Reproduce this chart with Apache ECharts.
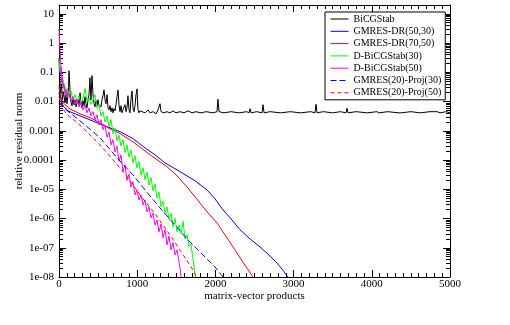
<!DOCTYPE html>
<html>
<head>
<meta charset="utf-8">
<script src="https://cdn.jsdelivr.net/npm/echarts@6/dist/echarts.min.js"></script>
<style>
  html, body { margin: 0; padding: 0; background: #fff; }
  #chart { width: 510px; height: 325px; }
</style>
</head>
<body>
<div id="chart"></div>
<script>
// series names (legend order)
const seriesNames = ['BiCGStab', 'GMRES-DR(50,30)', 'GMRES-DR(70,50)', 'D-BiCGStab(30)',
  'D-BiCGStab(50)', 'GMRES(20)-Proj(30)', 'GMRES(20)-Proj(50)'];

// [matrix-vector products, relative residual norm]
const bicgstab = [[0, 0.3], [6, 0.105], [19, 0.0171], [32, 0.038], [45, 0.0115], [58, 0.0217], [77, 0.0091],
  [90, 0.0171], [102, 0.0084], [122, 0.03], [128, 0.113], [141, 0.025], [153, 0.0098], [166, 0.0072],
  [179, 0.0135], [192, 0.0078], [205, 0.0115], [217, 0.0066], [230, 0.0091], [243, 0.0115], [256, 0.0078],
  [269, 0.02], [281, 0.0084], [294, 0.0061], [307, 0.0107], [320, 0.0072], [333, 0.0146], [345, 0.0084],
  [358, 0.0061], [371, 0.0115], [384, 0.0171], [396, 0.065], [409, 0.0115], [422, 0.077], [435, 0.0171],
  [448, 0.0084], [460, 0.0066], [473, 0.0107], [486, 0.0072], [499, 0.0115], [511, 0.0078], [524, 0.0091],
  [537, 0.0066], [550, 0.0115], [563, 0.0158], [576, 0.025], [588, 0.0115], [601, 0.0084], [614, 0.0171],
  [627, 0.0061], [640, 0.0052], [652, 0.0072], [665, 0.0045], [678, 0.0061], [691, 0.0041], [703, 0.0057],
  [716, 0.0048], [729, 0.0078], [742, 0.0146], [755, 0.025], [767, 0.0078], [780, 0.0045], [793, 0.0072],
  [806, 0.0041], [818, 0.0052], [831, 0.0045], [844, 0.0078], [857, 0.0045], [869, 0.0061], [882, 0.0158],
  [895, 0.0052], [908, 0.0041], [920, 0.0115], [934, 0.023], [946, 0.0061], [959, 0.0045], [972, 0.0072],
  [985, 0.0171], [998, 0.027], [1010, 0.0052], [1023, 0.0041], [1036, 0.0048], [1062, 0.0045], [1100, 0.0041],
  [1138, 0.0052], [1164, 0.0041], [1202, 0.0045], [1241, 0.0038], [1266, 0.0052], [1292, 0.0084], [1305, 0.0045],
  [1343, 0.0041], [1381, 0.0045], [1420, 0.0041], [1458, 0.0048], [1496, 0.0041], [1548, 0.0045], [1599, 0.0041],
  [1650, 0.0048], [1701, 0.0041], [1752, 0.0045], [1816, 0.0041], [1880, 0.0045], [1970, 0.0041], [2020, 0.0045],
  [2033, 0.012], [2046, 0.0045], [2110, 0.0041], [2200, 0.0045], [2300, 0.0041], [2400, 0.0045], [2430, 0.0041],
  [2443, 0.0057], [2456, 0.0041], [2530, 0.0045], [2596, 0.0041], [2609, 0.0078], [2622, 0.0041], [2700, 0.0045],
  [2830, 0.0041], [2960, 0.0045], [3090, 0.0041], [3220, 0.0045], [3274, 0.0041], [3287, 0.0081], [3300, 0.0041],
  [3380, 0.0045], [3500, 0.0041], [3600, 0.0045], [3670, 0.0041], [3683, 0.0059], [3696, 0.0041], [3800, 0.0045],
  [3940, 0.0041], [4067, 0.0045], [4080, 0.0048], [4093, 0.0041], [4200, 0.0045], [4348, 0.0041], [4361, 0.0045],
  [4374, 0.0041], [4500, 0.0045], [4620, 0.0041], [4745, 0.0045], [4758, 0.0048], [4770, 0.0041], [4835, 0.0045],
  [4850, 0.0048], [4873, 0.0041], [4950, 0.0045], [5000, 0.0041]];

const gmresDr5030 = [[0, 0.03], [6, 0.025], [26, 0.0115], [51, 0.0072], [115, 0.0048], [205, 0.0038],
  [358, 0.0026], [524, 0.0017], [652, 0.00126], [780, 0.00093], [946, 0.00054], [1100, 0.00026],
  [1228, 0.000151], [1356, 8e-5], [1548, 4e-5], [1739, 1.95e-5], [1893, 9.5e-6], [1995, 4.7e-6],
  [2098, 1.96e-6], [2213, 8.9e-7], [2315, 4.1e-7], [2443, 2.0e-7], [2571, 1.07e-7], [2699, 5.2e-8],
  [2788, 3.0e-8], [2865, 1.7e-8], [2916, 1.08e-8], [2930, 1e-8]];

const gmresDr7050 = [[0, 0.035], [6, 0.029], [26, 0.0134], [64, 0.0084], [141, 0.0056], [269, 0.0038],
  [396, 0.0028], [524, 0.00187], [652, 0.00117], [780, 0.0008], [946, 0.00042], [1164, 0.000151],
  [1381, 5.9e-5], [1509, 2.9e-5], [1637, 1.2e-5], [1803, 3.4e-6], [1906, 1.55e-6], [2021, 7.1e-7],
  [2123, 2.75e-7], [2225, 1.07e-7], [2353, 3.2e-8], [2481, 1e-8]];

const dBicg30 = [[0, 0.3], [13, 0.1], [26, 0.12], [38, 0.04], [51, 0.055], [64, 0.025], [77, 0.033],
  [90, 0.017], [102, 0.028], [128, 0.013], [154, 0.022], [179, 0.0115], [205, 0.017], [230, 0.0098],
  [256, 0.0158], [281, 0.009], [307, 0.013], [333, 0.028], [358, 0.0098], [384, 0.0135], [409, 0.008],
  [435, 0.0115], [460, 0.0171], [486, 0.006], [511, 0.0075], [537, 0.0032], [563, 0.0045], [588, 0.002],
  [614, 0.0032], [640, 0.0014], [665, 0.0024], [691, 0.0008], [716, 0.00125], [742, 0.00045], [767, 0.0007],
  [793, 0.0003], [818, 0.0005], [844, 0.00018], [869, 0.00033], [895, 0.000125], [920, 0.00022], [946, 8e-5],
  [972, 0.00014], [997, 5.4e-5], [1023, 9e-5], [1049, 3e-5], [1074, 5.5e-5], [1100, 2.1e-5], [1125, 3.9e-5],
  [1151, 1.4e-5], [1177, 2.5e-5], [1202, 9e-6], [1228, 1.5e-5], [1254, 5e-6], [1279, 8e-6], [1305, 2.5e-6],
  [1330, 4e-6], [1356, 1.5e-6], [1381, 2.5e-6], [1407, 9e-7], [1433, 1.5e-6], [1458, 5e-7], [1484, 1.0e-6],
  [1510, 3.5e-7], [1535, 6e-7], [1561, 3e-7], [1586, 8e-7], [1612, 2e-7], [1637, 2.8e-7], [1663, 1.1e-7],
  [1688, 1.3e-7], [1714, 4e-8], [1735, 1.5e-8], [1750, 1e-8]];

const dBicg50 = [[0, 3.0], [6, 1.2], [13, 0.6], [19, 0.35], [26, 0.08], [32, 0.15], [38, 0.045], [45, 0.07],
  [51, 0.03], [64, 0.04], [77, 0.018], [90, 0.025], [102, 0.0135], [128, 0.02], [154, 0.01], [179, 0.015],
  [205, 0.008], [230, 0.012], [256, 0.0066], [281, 0.0098], [307, 0.0052], [333, 0.0075], [358, 0.0041],
  [384, 0.006], [409, 0.0033], [435, 0.0045], [460, 0.0024], [486, 0.0035], [511, 0.0016], [537, 0.0024],
  [563, 0.0011], [588, 0.0016], [614, 0.0006], [640, 0.0009], [665, 0.00033], [691, 0.0005], [716, 0.00019],
  [742, 0.0003], [767, 9e-5], [793, 0.000151], [818, 4e-5], [844, 6.9e-5], [869, 2e-5], [895, 3.3e-5],
  [920, 1.2e-5], [946, 1.8e-5], [972, 6.4e-6], [997, 9.5e-6], [1023, 4.3e-6], [1049, 6.4e-6], [1074, 2.9e-6],
  [1100, 4.3e-6], [1125, 1.7e-6], [1151, 2.5e-6], [1177, 1.05e-6], [1202, 1.56e-6], [1228, 6e-7], [1254, 9e-7],
  [1279, 3.5e-7], [1305, 6.5e-7], [1330, 2.2e-7], [1356, 4.1e-7], [1381, 1.25e-7], [1407, 2.5e-7],
  [1433, 8.4e-8], [1458, 1.5e-7], [1484, 5.7e-8], [1510, 8.4e-8], [1535, 3.3e-8], [1548, 2e-8], [1560, 1e-8]];

const proj30 = [[0, 0.02], [6, 0.017], [38, 0.0078], [90, 0.0052], [205, 0.003], [358, 0.00138],
  [524, 0.00058], [742, 0.00012], [946, 3.1e-5], [1100, 9.5e-6], [1292, 2.3e-6], [1484, 6e-7],
  [1637, 2e-7], [1803, 7.2e-8], [1995, 2.2e-8], [2098, 1e-8]];

const proj50 = [[0, 0.015], [6, 0.0135], [38, 0.0062], [102, 0.0036], [205, 0.0022], [333, 0.00107],
  [524, 0.00033], [691, 0.000102], [844, 3.4e-5], [1036, 6.5e-6], [1228, 1.45e-6], [1420, 2.75e-7],
  [1573, 6.6e-8], [1714, 1.74e-8], [1752, 1e-8]];

// tick labels
const xTickLabels = ['0', '1000', '2000', '3000', '4000', '5000'];
const yTickLabels = ['1e-08', '1e-07', '1e-06', '1e-05', '0.0001', '0.001', '0.01', '0.1', '1', '10'];

const yMin = 1e-8, yMax = 20;
const font = 'Liberation Serif';

// minor log ticks 2..9 in each decade
const minorY = [];
for (let k = -8; k <= 0; k++) {
  for (let m = 2; m <= 9; m++) minorY.push(m * Math.pow(10, k));
}

function yLabel(v) {
  const e = Math.log10(v);
  const k = Math.round(e);
  if (Math.abs(e - k) > 1e-6) return '';
  return yTickLabels[k + 8] || '';
}

const chart = echarts.init(document.getElementById('chart'));

const frameY = (pos, minor) => ({
  type: 'log', logBase: 10, min: yMin, max: yMax, position: pos,
  axisLine: { show: !minor, lineStyle: { color: '#000', width: 1 } },
  axisTick: minor
    ? { show: true, inside: true, length: 4, customValues: minorY, lineStyle: { color: '#000' } }
    : { show: true, inside: true, length: 7, lineStyle: { color: '#000' } },
  axisLabel: { show: false },
  splitLine: { show: false }
});

const lineSeries = (name, data, color, type) => ({
  name: name, type: 'line', data: data, showSymbol: false, symbol: 'none',
  xAxisIndex: 0, yAxisIndex: 0, animation: false,
  lineStyle: { color: color, width: 1, type: type || 'solid' },
  itemStyle: { color: color }
});

chart.setOption({
  animation: false,
  backgroundColor: '#fff',
  grid: { left: 59, right: 60, top: 5, bottom: 48, outerBoundsMode: 'none', containLabel: false },
  legend: {
    data: seriesNames,
    orient: 'vertical',
    left: 325, top: 12,
    backgroundColor: '#fff',
    borderColor: '#000', borderWidth: 1, borderRadius: 0,
    padding: [2, 4, 2, 5],
    itemWidth: 18, itemHeight: 10, itemGap: 2.3,
    itemStyle: { opacity: 0, borderWidth: 0 },
    lineStyle: { width: 1 },
    textStyle: { fontFamily: font, fontSize: 10, color: '#000', lineHeight: 10 }
  },
  xAxis: [{
    type: 'value', min: 0, max: 5000, interval: 1000, position: 'bottom',
    name: 'matrix-vector products', nameLocation: 'middle', nameGap: 14, nameMoveOverlap: false,
    nameTextStyle: { fontFamily: font, fontSize: 11, color: '#000' },
    axisLine: { show: true, lineStyle: { color: '#000', width: 1 } },
    axisTick: { show: true, inside: true, length: 7, lineStyle: { color: '#000' } },
    minorTick: { show: true, splitNumber: 10, length: 4, lineStyle: { color: '#000' } },
    axisLabel: {
      fontFamily: font, fontSize: 11, color: '#000', margin: 2,
      formatter: v => xTickLabels[Math.round(v / 1000)]
    },
    splitLine: { show: false }, minorSplitLine: { show: false }
  }, {
    type: 'value', min: 0, max: 5000, interval: 1000, position: 'top',
    axisLine: { show: true, lineStyle: { color: '#000', width: 1 } },
    axisTick: { show: true, inside: true, length: 7, lineStyle: { color: '#000' } },
    minorTick: { show: true, splitNumber: 10, length: 4, lineStyle: { color: '#000' } },
    axisLabel: { show: false },
    splitLine: { show: false }
  }],
  yAxis: [{
    type: 'log', logBase: 10, min: yMin, max: yMax, position: 'left',
    name: 'relative residual norm', nameLocation: 'middle', nameGap: 34, nameMoveOverlap: false,
    nameTextStyle: { fontFamily: font, fontSize: 11, color: '#000' },
    axisLine: { show: true, lineStyle: { color: '#000', width: 1 } },
    axisTick: { show: true, inside: true, length: 7, lineStyle: { color: '#000' } },
    axisLabel: { fontFamily: font, fontSize: 11, color: '#000', margin: 5, formatter: yLabel },
    splitLine: { show: false }
  }, frameY('left', true), frameY('right', false), frameY('right', true)],
  series: [
    lineSeries(seriesNames[0], bicgstab, '#000000'),
    lineSeries(seriesNames[1], gmresDr5030, '#0000ff'),
    lineSeries(seriesNames[2], gmresDr7050, '#ff0000'),
    lineSeries(seriesNames[3], dBicg30, '#00ff00'),
    lineSeries(seriesNames[4], dBicg50, '#ff00ff'),
    lineSeries(seriesNames[5], proj30, '#0000ff', [6, 3]),
    lineSeries(seriesNames[6], proj50, '#ff0000', [4, 3])
  ]
});
</script>
</body>
</html>
